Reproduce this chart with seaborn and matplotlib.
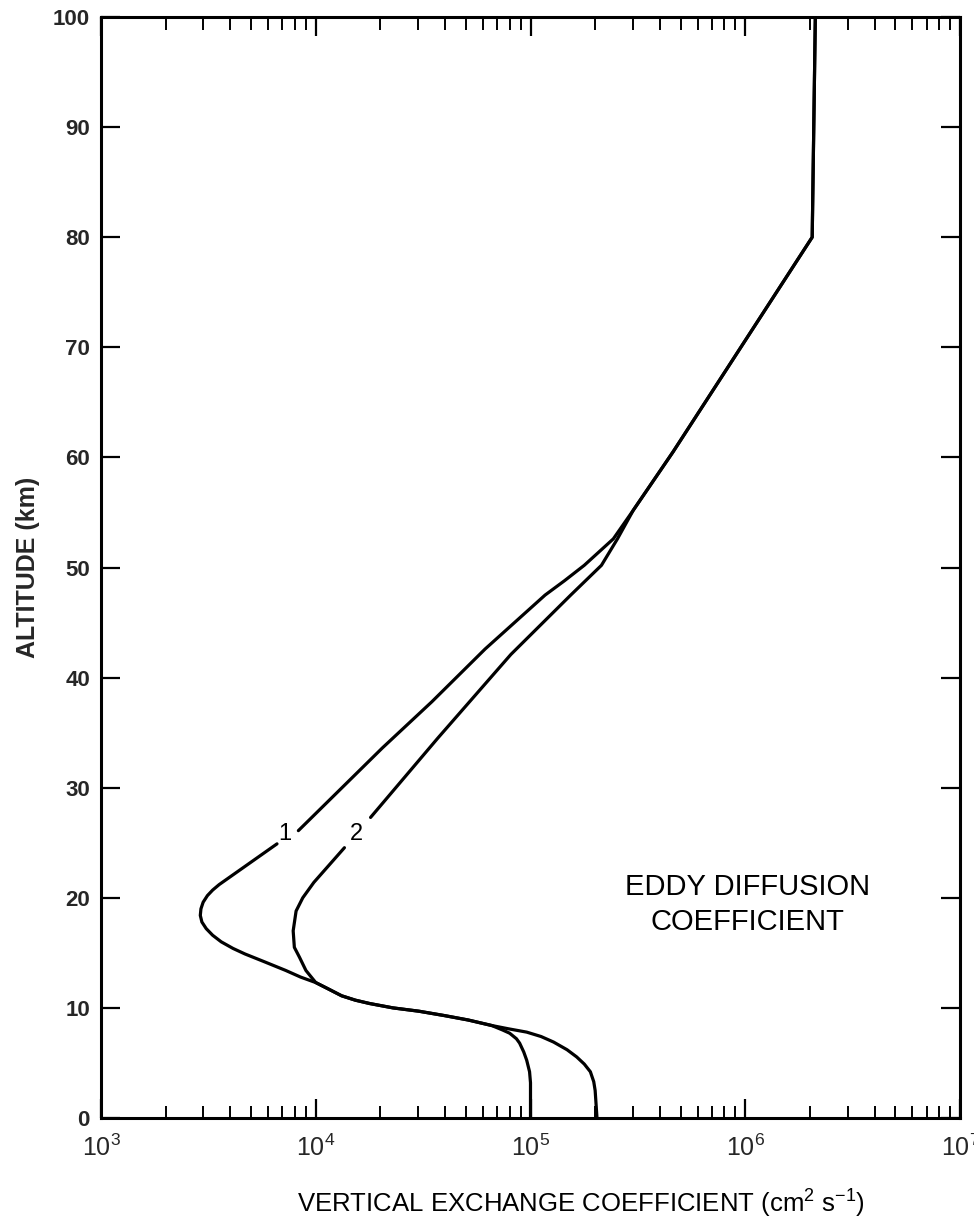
import matplotlib
matplotlib.use('Agg')
import matplotlib.pyplot as plt
import seaborn as sns
from matplotlib.ticker import LogLocator, NullFormatter, FixedLocator

# altitude (km) and vertical exchange coefficient (cm2 s-1)
# each curve is split where its number label sits
alt_1_upper = [100, 80, 60.5, 55.2, 52.6, 50.2, 48.8, 47.5, 42.6, 37.8, 33.6, 26.1]
k_1_upper = [2.12e6, 2.05e6, 4.61e5, 3.01e5, 2.43e5, 1.78e5, 1.44e5, 1.17e5, 6.15e4, 3.47e4,
             2.04e4, 8.3e3]

alt_1_lower = [24.9, 21.2, 20.7, 20.2, 19.6, 19.0, 18.4, 17.8, 17.2, 16.6, 16.0, 15.4, 14.9, 14.2,
               13.4, 12.8, 12.3, 11.7, 11.1, 10.7, 10.4, 10.0, 9.7, 9.3, 8.9, 8.4,
               8.0, 7.7, 7.2, 6.8, 6.0, 5.25, 4.2, 3.2, 0]
k_1_lower = [6.6e3, 3.55e3, 3.31e3, 3.13e3, 2.99e3, 2.92e3, 2.9e3, 2.95e3, 3.09e3, 3.31e3, 3.63e3,
             4.12e3, 4.68e3, 5.75e3, 7.25e3, 8.5e3, 1.0e4, 1.15e4, 1.32e4, 1.53e4, 1.78e4, 2.29e4,
             3.02e4, 3.98e4, 5.13e4, 6.6e4, 7.4e4, 8.0e4, 8.6e4, 8.9e4, 9.3e4, 9.6e4, 9.9e4, 1.0e5,
             1.0e5]

alt_2_upper = [100, 80, 60.5, 55.2, 52.6, 50.2, 47.5, 42.1, 34.5, 27.3]
k_2_upper = [2.12e6, 2.05e6, 4.61e5, 3.01e5, 2.54e5, 2.14e5, 1.54e5, 8.1e4, 3.7e4, 1.8e4]

alt_2_lower = [24.55, 21.4, 20.0, 18.8, 17.0, 15.5, 14.6, 13.4, 12.3, 11.7, 11.1, 10.7, 10.4, 10.0,
               9.7, 9.3, 8.9, 8.4, 8.1, 7.8, 7.4, 6.9, 6.2, 5.55, 4.9, 4.2, 3.3, 2.5, 0]
k_2_lower = [1.36e4, 9.8e3, 8.7e3, 8.1e3, 7.85e3, 7.95e3, 8.4e3, 9.0e3, 1.0e4, 1.15e4, 1.32e4,
             1.53e4, 1.78e4, 2.29e4, 3.02e4, 3.98e4, 5.13e4, 6.6e4, 7.9e4, 9.6e4, 1.12e5, 1.28e5,
             1.48e5, 1.64e5, 1.78e5, 1.9e5, 1.97e5, 2.0e5, 2.04e5]

curve_labels = ['1', '2']
label_k = [7.2e3, 1.55e4]
label_alt = [25.8, 25.8]

y_ticks = [0, 10, 20, 30, 40, 50, 60, 70, 80, 90, 100]
x_ticks = [1e3, 1e4, 1e5, 1e6, 1e7]
x_tick_labels = ['$10^{3}$', '$10^{4}$', '$10^{5}$', '$10^{6}$', '$10^{7}$']

sns.set_theme(style='ticks')
plt.rcParams['font.family'] = ['Liberation Sans', 'DejaVu Sans']
plt.rcParams['mathtext.fontset'] = 'custom'
plt.rcParams['mathtext.rm'] = 'Liberation Sans'
plt.rcParams['mathtext.default'] = 'regular'

fig = plt.figure(figsize=(9.74, 12.23), dpi=100)
fig.patch.set_facecolor('white')
ax = fig.add_axes([101 / 974, 1 - 1118 / 1223, 859 / 974, 1101 / 1223])
ax.set_facecolor('white')

for k, alt in [(k_1_upper, alt_1_upper), (k_1_lower, alt_1_lower),
               (k_2_upper, alt_2_upper), (k_2_lower, alt_2_lower)]:
    sns.lineplot(x=k, y=alt, sort=False, estimator=None, color='black', linewidth=2.3, ax=ax)

for txt, k, a in zip(curve_labels, label_k, label_alt):
    ax.text(k, a, txt, ha='center', va='center', fontsize=17, color='black')

ax.text(1.02e6, 19.4, 'EDDY DIFFUSION\nCOEFFICIENT', ha='center', va='center',
        fontsize=21, linespacing=1.3, color='black')

ax.set_xscale('log')
ax.set_xlim(1e3, 1e7)
ax.set_ylim(0, 100)

ax.xaxis.set_major_locator(FixedLocator(x_ticks))
ax.set_xticklabels(x_tick_labels, fontsize=18)
ax.xaxis.set_minor_locator(LogLocator(base=10, subs=range(2, 10)))
ax.xaxis.set_minor_formatter(NullFormatter())
ax.set_yticks(y_ticks)
ax.set_yticklabels([str(v) for v in y_ticks], fontsize=16, fontweight='bold')

ax.tick_params(axis='both', which='major', direction='in', length=14, width=1.6,
               top=True, right=True, color='black')
ax.tick_params(axis='x', which='minor', direction='in', length=9, width=1.4,
               top=True, bottom=True, color='black')
ax.tick_params(axis='x', which='major', pad=12)
ax.tick_params(axis='y', which='major', pad=8)

for side in ['left', 'right', 'top', 'bottom']:
    ax.spines[side].set_visible(True)
    ax.spines[side].set_color('black')
    ax.spines[side].set_linewidth(2.2)

ax.set_xlabel('')
ax.set_ylabel('ALTITUDE (km)', fontsize=18, fontweight='bold')
ax.yaxis.set_label_coords(-0.071, 0.5)

fig.text(297 / 974, 10 / 1223, 'VERTICAL EXCHANGE COEFFICIENT (cm$^{2}$ s$^{-1}$)',
         ha='left', va='baseline', fontsize=18.5, color='black')

fig.savefig('out.png', dpi=100, facecolor='white')
